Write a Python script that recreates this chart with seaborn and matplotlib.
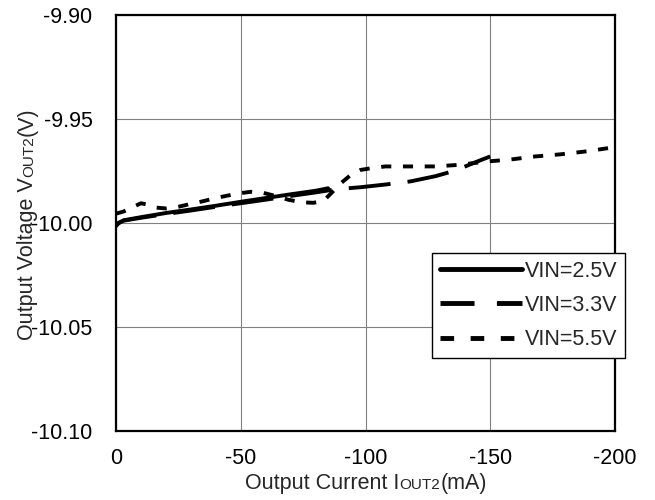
import matplotlib

matplotlib.use("Agg")

import matplotlib.pyplot as plt
import pandas as pd
import seaborn as sns

# values
SERIES_LABELS = ["VIN=2.5V", "VIN=3.3V", "VIN=5.5V"]

IOUT_25 = [0, -1, -3, -10, -20, -30, -40, -50, -60, -70, -80, -85]
VOUT_25 = [-10.0015, -10.0002, -9.9987, -9.9972, -9.9952, -9.9935, -9.9917,
           -9.9898, -9.9880, -9.9862, -9.9845, -9.9833]

IOUT_33 = [0, -1, -3, -10, -20, -30, -40, -50, -60, -70, -80, -88, -98,
           -108, -118, -128, -133, -138, -144, -150]
VOUT_33 = [-10.0010, -9.9999, -9.9989, -9.9975, -9.9957, -9.9940, -9.9922,
           -9.9905, -9.9888, -9.9870, -9.9853, -9.9838, -9.9828, -9.9815,
           -9.9800, -9.9775, -9.9758, -9.9738, -9.9708, -9.9680]

IOUT_55 = [0, -3, -6, -10, -12, -15, -20, -25, -30, -35, -40, -44, -49, -54,
           -59, -64, -69, -74, -79, -83, -86, -90, -94, -98, -103, -108,
           -118, -128, -138, -148, -158, -168, -178, -189, -200]
VOUT_55 = [-9.9955, -9.9945, -9.9928, -9.9905, -9.9910, -9.9925, -9.9930,
           -9.9922, -9.9908, -9.9895, -9.9880, -9.9870, -9.9858, -9.9850,
           -9.9855, -9.9870, -9.9888, -9.9900, -9.9903, -9.9895, -9.9860,
           -9.9810, -9.9770, -9.9745, -9.9735, -9.9728, -9.9728, -9.9728,
           -9.9720, -9.9705, -9.9695, -9.9680, -9.9670, -9.9655, -9.9635]

X_TICKS = [0, -50, -100, -150, -200]
Y_TICKS = [-10.10, -10.05, -10.00, -9.95, -9.90]

FONT_SIZE = 15.5
SMALL_SIZE = 11

frames = []
for label, xs, ys in zip(SERIES_LABELS, [IOUT_25, IOUT_33, IOUT_55], [VOUT_25, VOUT_33, VOUT_55]):
    frames.append(pd.DataFrame({"iout": xs, "vout": ys, "series": label}))
df = pd.concat(frames, ignore_index=True)

sns.set_theme(style="white")
plt.rcParams["font.family"] = ["Liberation Sans", "DejaVu Sans"]
plt.rcParams["axes.unicode_minus"] = False

fig = plt.figure(figsize=(6.55, 5.0), dpi=100)
ax = fig.add_axes([116 / 655, 1 - 431 / 500, 499 / 655, 416 / 500])

sns.lineplot(
    data=df,
    x="iout",
    y="vout",
    style="series",
    style_order=SERIES_LABELS,
    dashes={"VIN=2.5V": "", "VIN=3.3V": (10.8, 4.4), "VIN=5.5V": (2.6, 3.0)},
    color="black",
    linewidth=2.8,
    sort=False,
    estimator=None,
    ax=ax,
)

ax.set_xlim(0, -200)
ax.set_ylim(-10.10, -9.90)
ax.set_xticks(X_TICKS)
ax.set_xticklabels([f"{v:d}" for v in X_TICKS])
ax.set_yticks(Y_TICKS)
ax.set_yticklabels([f"{v:.2f}" for v in Y_TICKS])
ax.tick_params(axis="x", length=0, pad=12, labelsize=FONT_SIZE, colors="black")
ax.tick_params(axis="y", length=0, pad=17, labelsize=FONT_SIZE, colors="black")
ax.grid(True, color="#808080", linewidth=0.8)
for spine in ax.spines.values():
    spine.set_color("black")
    spine.set_linewidth(1.6)
ax.set_xlabel("")
ax.set_ylabel("")

# axis labels with the smaller "OUT2" part
xl = fig.text(245 / 655, 1 - 489 / 500, "Output Current I", fontsize=FONT_SIZE,
              ha="left", va="baseline")
xl2 = ax.annotate("OUT2", xy=(1.0, 1 - 489 / 500), xycoords=(xl, "figure fraction"),
                  fontsize=SMALL_SIZE, ha="left", va="baseline")
ax.annotate("(mA)", xy=(1.0, 1 - 489 / 500), xycoords=(xl2, "figure fraction"),
            fontsize=FONT_SIZE, ha="left", va="baseline")

yl = fig.text(33 / 655, 1 - 340 / 500, "Output Voltage V", fontsize=FONT_SIZE,
              rotation=90, rotation_mode="anchor", ha="left", va="baseline")
yl2 = ax.annotate("OUT2", xy=(33 / 655, 1.0), xycoords=("figure fraction", yl),
                  fontsize=SMALL_SIZE, rotation=90, rotation_mode="anchor",
                  ha="left", va="baseline")
ax.annotate("(V)", xy=(33 / 655, 1.0), xycoords=("figure fraction", yl2),
            fontsize=FONT_SIZE, rotation=90, rotation_mode="anchor",
            ha="left", va="baseline")

handles, labels = ax.get_legend_handles_labels()
leg = ax.legend(
    handles,
    labels,
    loc="upper left",
    bbox_to_anchor=(432 / 655, 1 - 253 / 500),
    bbox_transform=fig.transFigure,
    borderaxespad=0,
    frameon=True,
    fancybox=False,
    framealpha=1,
    edgecolor="black",
    fontsize=FONT_SIZE,
    handlelength=3.85,
    handletextpad=0.12,
    labelspacing=0.62,
    borderpad=0.35,
)
leg.get_frame().set_linewidth(1.0)
legend_dashes = {"VIN=3.3V": (7.0, 4.6), "VIN=5.5V": (2.8, 3.4)}
for line, text in zip(leg.get_lines(), leg.get_texts()):
    line.set_linewidth(3.5)
    if text.get_text() in legend_dashes:
        line.set_dashes(legend_dashes[text.get_text()])

fig.savefig("out.png", dpi=100)
plt.close(fig)
